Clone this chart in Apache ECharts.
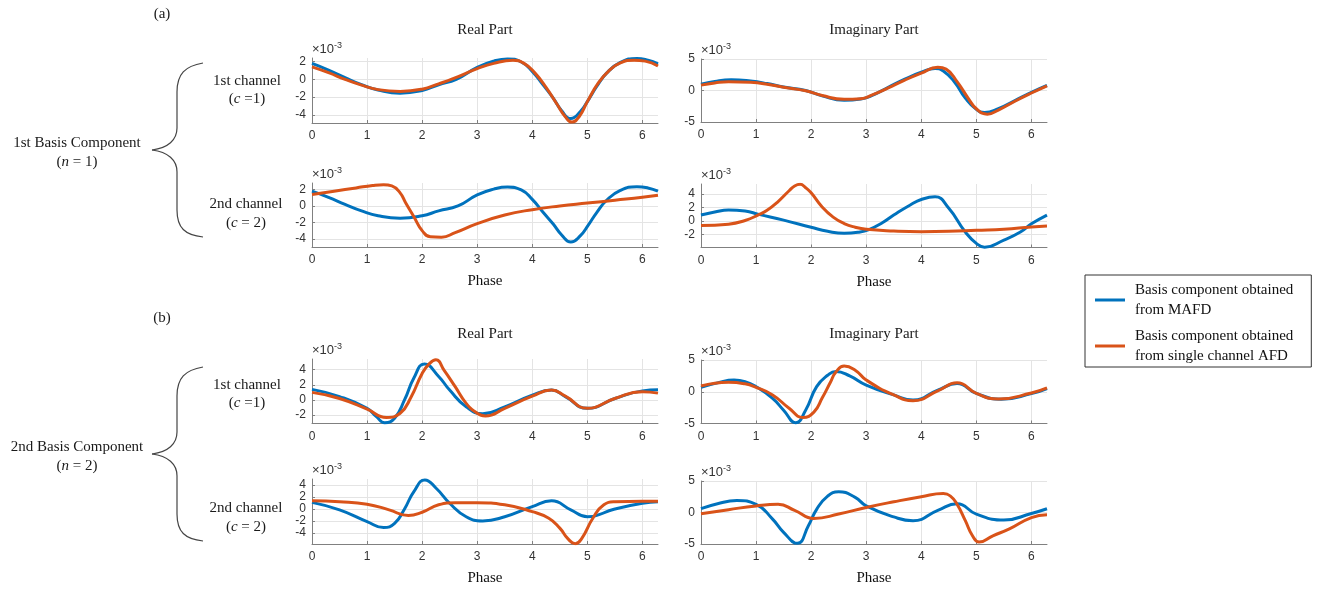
<!DOCTYPE html>
<html><head><meta charset="utf-8">
<script src="https://cdn.jsdelivr.net/npm/echarts@6/dist/echarts.min.js"></script>
<style>html,body{margin:0;padding:0;background:#fff}#c{width:1324px;height:593px}</style>
</head><body><div id="c"></div>
<script>
// ---------- DATA (values in units of 1e-3, phase in radians) ----------
const xTicks = [0, 1, 2, 3, 4, 5, 6];
const PHASE_MAX = 6.283185307;

const seriesNames = ['Basis component obtained\nfrom MAFD', 'Basis component obtained\nfrom single channel AFD'];

// (a) n = 1, channel 1
const aRealCh1Mafd = [[0,1.8],[0.3,1.05],[0.6,0.2],[0.9,-0.6],[1.2,-1.2],[1.6,-1.55],[2.0,-1.25],[2.3,-0.6],[2.62,0],[3.0,1.35],[3.3,2.05],[3.55,2.3],[3.8,1.95],[4.0,0.9],[4.2,-0.65],[4.38,-2.1],[4.53,-3.5],[4.7,-4.4],[4.87,-3.65],[5.02,-2.3],[5.17,-0.8],[5.35,0.7],[5.6,1.9],[5.9,2.35],[6.1,2.15],[6.283,1.75]];
const aRealCh1Afd  = [[0,1.4],[0.3,0.75],[0.6,0.0],[0.9,-0.65],[1.2,-1.15],[1.6,-1.35],[2.0,-1.1],[2.3,-0.5],[2.55,0.05],[3.0,1.2],[3.3,1.8],[3.65,2.15],[3.85,1.8],[4.05,0.7],[4.25,-0.9],[4.45,-2.8],[4.6,-4.2],[4.72,-4.8],[4.85,-4.2],[5.0,-2.5],[5.2,-0.4],[5.4,1.0],[5.6,1.85],[5.85,2.15],[6.05,2.05],[6.283,1.5]];
const aImagCh1Mafd = [[0,1.0],[0.25,1.45],[0.55,1.7],[0.9,1.5],[1.2,1.1],[1.5,0.55],[1.9,0],[2.2,-0.85],[2.6,-1.55],[2.9,-1.35],[3.1,-0.8],[3.4,0.5],[3.7,1.8],[4.0,2.9],[4.25,3.5],[4.4,3.1],[4.6,1.4],[4.8,-1.2],[5.0,-3.0],[5.15,-3.5],[5.4,-2.9],[5.7,-1.6],[6.0,-0.3],[6.283,0.8]];
const aImagCh1Afd  = [[0,0.85],[0.25,1.2],[0.5,1.4],[0.9,1.3],[1.2,1.0],[1.5,0.5],[1.9,-0.05],[2.2,-0.8],[2.6,-1.4],[2.9,-1.3],[3.1,-0.75],[3.4,0.4],[3.7,1.65],[4.0,2.75],[4.3,3.7],[4.45,3.4],[4.65,1.4],[4.85,-1.2],[5.0,-2.9],[5.2,-3.75],[5.4,-3.1],[5.7,-1.7],[6.0,-0.4],[6.283,0.75]];

// (a) n = 1, channel 2
const aRealCh2Mafd = [[0,1.8],[0.3,1.05],[0.6,0.2],[0.9,-0.6],[1.2,-1.2],[1.6,-1.5],[2.0,-1.2],[2.3,-0.6],[2.65,0],[3.0,1.35],[3.3,2.05],[3.55,2.3],[3.8,1.95],[4.0,0.8],[4.2,-0.8],[4.38,-2.2],[4.53,-3.5],[4.7,-4.4],[4.87,-3.65],[5.02,-2.3],[5.17,-0.8],[5.35,0.7],[5.6,1.9],[5.9,2.35],[6.1,2.2],[6.283,1.8]];
const aRealCh2Afd  = [[0,1.4],[0.4,1.8],[0.8,2.2],[1.1,2.5],[1.3,2.6],[1.45,2.45],[1.6,1.6],[1.7,0.4],[1.85,-1.3],[2.0,-3.0],[2.15,-3.75],[2.35,-3.8],[2.6,-3.25],[3.0,-2.15],[3.5,-1.1],[4.0,-0.45],[4.5,0.0],[5.0,0.35],[5.5,0.7],[6.0,1.05],[6.283,1.3]];
const aImagCh2Mafd = [[0,0.9],[0.25,1.35],[0.5,1.65],[0.8,1.5],[1.05,1.0],[1.5,0.15],[2.0,-0.9],[2.3,-1.5],[2.6,-1.8],[2.85,-1.65],[3.05,-1.25],[3.3,-0.2],[3.5,0.9],[3.8,2.4],[4.0,3.2],[4.25,3.6],[4.5,1.9],[4.8,-1.6],[5.0,-3.3],[5.15,-3.85],[5.5,-2.8],[5.8,-1.6],[6.0,-0.4],[6.283,0.9]];
const aImagCh2Afd  = [[0,-0.65],[0.5,-0.45],[0.8,0.1],[1.05,0.95],[1.2,1.6],[1.4,2.9],[1.6,4.5],[1.7,5.2],[1.8,5.45],[1.9,4.95],[2.0,4.2],[2.2,2.1],[2.4,0.6],[2.6,-0.35],[2.8,-0.9],[3.0,-1.2],[3.5,-1.45],[4.0,-1.55],[4.5,-1.5],[5.0,-1.35],[5.5,-1.2],[6.0,-0.85],[6.283,-0.7]];

// (b) n = 2, channel 1
const bRealCh1Mafd = [[0,1.4],[0.5,0.45],[1.0,-1.1],[1.17,-2.2],[1.32,-3.0],[1.5,-2.4],[1.68,0],[1.85,2.9],[2.04,4.75],[2.3,3.1],[2.5,1.3],[2.8,-0.9],[3.1,-1.8],[3.5,-0.9],[4.0,0.65],[4.35,1.3],[4.6,0.45],[5.0,-1.1],[5.5,0.2],[6.0,1.2],[6.283,1.35]];
const bRealCh1Afd  = [[0,1.0],[0.5,0.2],[1.0,-1.2],[1.35,-2.3],[1.6,-1.75],[1.8,0.4],[2.0,3.5],[2.12,4.7],[2.25,5.3],[2.4,3.9],[2.6,1.75],[2.8,-0.45],[3.0,-1.75],[3.15,-2.1],[3.5,-1.1],[4.0,0.5],[4.35,1.3],[4.6,0.5],[5.0,-1.1],[5.5,0.2],[6.0,1.1],[6.283,0.9]];
const bImagCh1Mafd = [[0,0.7],[0.3,1.4],[0.6,1.85],[0.8,1.6],[1.0,0.8],[1.3,-1.05],[1.5,-2.9],[1.72,-4.9],[1.9,-2.9],[2.1,0.8],[2.3,2.6],[2.45,3.2],[2.7,2.5],[3.0,1.05],[3.5,-0.5],[3.85,-1.3],[4.3,0.25],[4.65,1.3],[5.0,-0.25],[5.45,-1.2],[6.0,-0.3],[6.283,0.5]];
const bImagCh1Afd  = [[0,0.9],[0.5,1.5],[0.8,1.25],[1.0,0.7],[1.3,-0.5],[1.6,-2.6],[1.85,-4.05],[2.05,-3.2],[2.2,-1.0],[2.35,1.5],[2.45,3.1],[2.6,4.05],[2.8,3.4],[3.0,1.85],[3.5,-0.5],[3.85,-1.4],[4.3,0.15],[4.65,1.4],[5.0,-0.25],[5.4,-1.15],[6.0,-0.2],[6.283,0.6]];

// (b) n = 2, channel 2
const bRealCh2Mafd = [[0,1.1],[0.5,-0.15],[1.0,-2.1],[1.3,-3.1],[1.5,-2.4],[1.68,0.0],[1.85,2.9],[2.05,4.85],[2.25,3.5],[2.5,0.95],[2.8,-1.3],[3.1,-2.0],[3.5,-1.3],[4.0,0.4],[4.35,1.35],[4.7,-0.15],[5.0,-1.3],[5.5,0.0],[6.0,0.95],[6.283,1.2]];
const bRealCh2Afd  = [[0,1.35],[0.5,1.2],[1.0,0.8],[1.4,-0.15],[1.75,-1.1],[2.0,-0.55],[2.3,0.7],[2.6,1.05],[3.0,1.05],[3.5,0.7],[4.0,-0.45],[4.3,-1.55],[4.5,-3.2],[4.65,-5.0],[4.78,-5.8],[4.9,-4.9],[5.1,-1.55],[5.3,0.7],[5.5,1.2],[6.0,1.3],[6.283,1.3]];
const bImagCh2Mafd = [[0,0.6],[0.3,1.4],[0.65,1.9],[1.0,1.3],[1.3,-1.05],[1.5,-3.15],[1.75,-4.9],[1.95,-2.1],[2.1,0.5],[2.3,2.6],[2.5,3.3],[2.8,2.4],[3.0,1.05],[3.5,-0.7],[3.85,-1.3],[4.3,0.35],[4.65,1.4],[5.0,-0.25],[5.5,-1.2],[6.0,-0.15],[6.283,0.6]];
const bImagCh2Afd  = [[0,-0.2],[0.5,0.45],[1.0,1.05],[1.4,1.3],[1.7,0.35],[2.05,-0.95],[2.5,-0.25],[3.0,0.8],[3.5,1.7],[4.0,2.5],[4.4,3.0],[4.53,2.6],[4.65,1.3],[4.8,-1.3],[4.93,-3.7],[5.05,-4.7],[5.3,-3.7],[5.6,-2.6],[6.0,-0.8],[6.283,-0.35]];

// y tick labels per panel
const yTicksARe1 = [-4, -2, 0, 2];
const yTicksAIm1 = [-5, 0, 5];
const yTicksARe2 = [-4, -2, 0, 2];
const yTicksAIm2 = [-2, 0, 2, 4];
const yTicksBRe1 = [-2, 0, 2, 4];
const yTicksBIm1 = [-5, 0, 5];
const yTicksBRe2 = [-4, -2, 0, 2, 4];
const yTicksBIm2 = [-5, 0, 5];

// ---------- LAYOUT ----------
const panels = [
  {left:312, top:58,  height:65,   min:-4.9,  max:2.4, ticks:yTicksARe1, d:[aRealCh1Mafd,aRealCh1Afd], phase:false},
  {left:701, top:59,  height:63,   min:-5,    max:5,   ticks:yTicksAIm1, d:[aImagCh1Mafd,aImagCh1Afd], phase:false},
  {left:312, top:183, height:64,   min:-5,    max:2.8, ticks:yTicksARe2, d:[aRealCh2Mafd,aRealCh2Afd], phase:true},
  {left:701, top:184, height:63.5, min:-3.9,  max:5.5, ticks:yTicksAIm2, d:[aImagCh2Mafd,aImagCh2Afd], phase:true},
  {left:312, top:359, height:64.5, min:-3.1,  max:5.4, ticks:yTicksBRe1, d:[bRealCh1Mafd,bRealCh1Afd], phase:false},
  {left:701, top:360, height:63.5, min:-5,    max:5,   ticks:yTicksBIm1, d:[bImagCh1Mafd,bImagCh1Afd], phase:false},
  {left:312, top:479, height:65,   min:-5.85, max:5.0, ticks:yTicksBRe2, d:[bRealCh2Mafd,bRealCh2Afd], phase:true},
  {left:701, top:481, height:63,   min:-5,    max:5,   ticks:yTicksBIm2, d:[bImagCh2Mafd,bImagCh2Afd], phase:true}
];
const W = 346;
const COLORS = ['#0072BD', '#D95319'];
const SANS = 'Liberation Sans, Arial, Helvetica, sans-serif';
const SERIF = 'Liberation Serif, Times New Roman, serif';
const AXIS_C = '#808080', GRID_C = '#e4e4e4', LABEL_C = '#333';

const grid = [], xAxis = [], yAxis = [], series = [];
panels.forEach((p, i) => {
  grid.push({left:p.left, top:p.top, width:W, height:p.height, containLabel:false});
  xAxis.push({
    type:'value', gridIndex:i, min:0, max:PHASE_MAX,
    axisLine:{show:true, onZero:false, lineStyle:{color:AXIS_C, width:1}},
    axisTick:{show:true, inside:true, length:3, customValues:xTicks, lineStyle:{color:AXIS_C}},
    axisLabel:{customValues:xTicks, fontSize:12, color:LABEL_C, fontFamily:SANS, margin:7},
    splitLine:{show:true, lineStyle:{color:GRID_C, width:1}},
    name: p.phase ? 'Phase' : '', nameLocation:'middle', nameGap:27,
    nameTextStyle:{fontFamily:SERIF, fontSize:15, color:'#111'}
  });
  yAxis.push({
    type:'value', gridIndex:i, min:p.min, max:p.max,
    axisLine:{show:true, lineStyle:{color:AXIS_C, width:1}},
    axisTick:{show:true, inside:true, length:3, customValues:p.ticks, lineStyle:{color:AXIS_C}},
    axisLabel:{customValues:p.ticks, fontSize:12, color:LABEL_C, fontFamily:SANS, margin:6},
    splitLine:{show:true, lineStyle:{color:GRID_C, width:1}},
    name:'{a|×10}{b|-3}', nameLocation:'end', nameGap:1,
    nameTextStyle:{align:'left', verticalAlign:'bottom',
      rich:{a:{fontSize:13, color:LABEL_C, fontFamily:SANS, lineHeight:16},
            b:{fontSize:9, color:LABEL_C, fontFamily:SANS, verticalAlign:'top', lineHeight:16}}}
  });
  p.d.forEach((data, k) => {
    series.push({
      type:'line', name:seriesNames[k], xAxisIndex:i, yAxisIndex:i, data:data,
      showSymbol:false, symbol:'none', smooth:0.5,
      lineStyle:{width:3, color:COLORS[k]}, itemStyle:{color:COLORS[k]},
      z: 2 + k, animation:false
    });
  });
});

// ---------- ANNOTATIONS ----------
function txt(x, y, text, size) {
  return {type:'text', x:x, y:y, silent:true, style:{
    text:text, align:'center', verticalAlign:'middle',
    fontFamily:SERIF, fontSize:size || 15, fill:'#1a1a1a',
    rich:{i:{fontStyle:'italic', fontFamily:SERIF, fontSize:size || 15, fill:'#1a1a1a'}}
  }};
}
const BRACE_STYLE = {fill:null, stroke:'#444', lineWidth:1.2};
function bez(x1,y1,c1x,c1y,c2x,c2y,x2,y2) {
  return {type:'bezierCurve', silent:true, shape:{x1:x1,y1:y1,cpx1:c1x,cpy1:c1y,cpx2:c2x,cpy2:c2y,x2:x2,y2:y2}, style:BRACE_STYLE};
}
function ln(x1,y1,x2,y2) {
  return {type:'line', silent:true, shape:{x1:x1,y1:y1,x2:x2,y2:y2}, style:BRACE_STYLE};
}
function brace(dy) {
  return [
    bez(203,63+dy, 185,66+dy, 177,74+dy, 177,92+dy),
    ln(177,92+dy, 177,128+dy),
    bez(177,128+dy, 177,140+dy, 168,148+dy, 152,150+dy),
    bez(152,150+dy, 168,152+dy, 177,160+dy, 177,172+dy),
    ln(177,172+dy, 177,210+dy),
    bez(177,210+dy, 177,228+dy, 185,235+dy, 203,237+dy)
  ];
}
const graphic = [];
[0, 304].forEach((dy, j) => {
  graphic.push(txt(162, 14+dy, j ? '(b)' : '(a)'));
  graphic.push(txt(485, 30+dy, 'Real Part'));
  graphic.push(txt(874, 30+dy, 'Imaginary Part'));
  graphic.push(txt(247, 81+dy, '1st channel'));
  graphic.push(txt(247, 99+dy, '({i|c} =1)'));
  graphic.push(txt(246, 204+dy, '2nd channel'));
  graphic.push(txt(246, 223+dy, '({i|c} = 2)'));
  graphic.push(txt(77, 143+dy, j ? '2nd Basis Component' : '1st Basis Component'));
  graphic.push(txt(77, 162+dy, j ? '({i|n} = 2)' : '({i|n} = 1)'));
  brace(dy).forEach(e => graphic.push(e));
});

const chart = echarts.init(document.getElementById('c'), null, {renderer:'canvas'});
chart.setOption({
  animation:false,
  backgroundColor:'#fff',
  grid, xAxis, yAxis, series, graphic,
  legend:{
    data:seriesNames, left:1085, top:275, orient:'vertical',
    icon:'rect', itemWidth:30, itemHeight:3, itemGap:6,
    padding:[5, 18, 1, 10], borderColor:'#333', borderWidth:1,
    selectedMode:false,
    textStyle:{fontFamily:SERIF, fontSize:15, lineHeight:20, color:'#111', padding:[0,0,0,5]}
  }
});
</script></body></html>
